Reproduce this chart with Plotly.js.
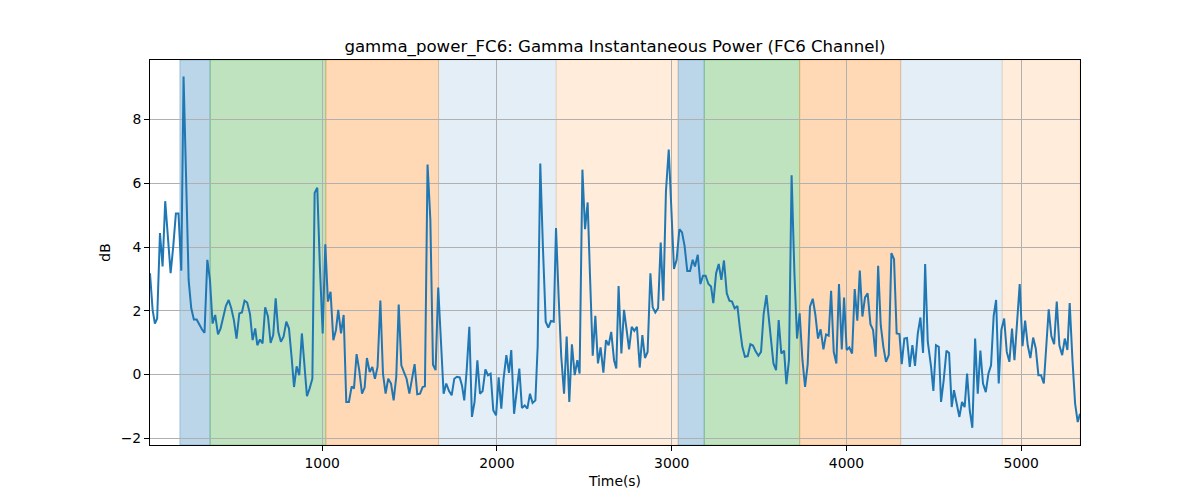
<!DOCTYPE html>
<html>
<head>
<meta charset="utf-8">
<script src="https://cdn.plot.ly/plotly-3.0.1.min.js"></script>
<style>html,body{margin:0;padding:0;background:#fff;}#chart{width:1200px;height:500px;}</style>
</head>
<body>
<div id="chart"></div>
<script>
const timeS = [15,30,43,56,72,87,102,117,133,148,163,178,194,207,220,236,251,266,282,297,312,327,343,358,373,388,404,419,434,449,465,480,495,510,526,541,556,571,587,602,617,629,644,659,674,690,705,720,734,749,764,779,795,810,825,839,854,869,884,
913,928,944,957,972,987,1003,1018,1033,1048,1064,1079,1092,1108,1123,1138,1153,1169,1182,1197,1212,1228,1243,1256,1272,1287,1302,1317,1333,1348,1363,1378,1394,1409,1424,1438,1453,1468,1483,1499,1514,1529,1544,1560,1575,1588,1603,1619,1634,1649,1664,1680,1695,1710,1726,1741,1756,1771,1787,
1800,1813,1827,1842,1857,1872,1888,1903,1918,1934,1949,1964,1979,1995,2010,2025,2038,2054,2069,2082,2098,2113,2128,2143,2159,2174,2189,2204,2220,2233,2248,2263,2279,2294,2309,2325,2338,2353,2368,2384,2399,2414,2429,2445,2460,2473,2489,2504,2519,2532,2548,2563,2578,2593,2609,2624,2639,2654,2670,
2683,2696,2712,2727,2742,2756,2771,2786,2801,2817,2832,2847,2862,2878,2891,2906,2922,2937,2952,2967,2983,2998,3013,3028,3044,3059,3074,3089,3105,3120,3133,3149,3164,3179,3194,3210,3225,3238,3254,3269,3284,3299,3315,3330,3345,3360,3376,3389,3404,3419,3435,3450,3465,3480,3496,3511,3526,3542,
3566,3582,3597,3612,3627,3643,3656,3671,3686,3702,3717,3732,3748,3763,3778,3791,3807,3822,3837,3852,3868,3883,3898,3912,3927,3942,3957,3973,3986,4001,4016,4032,4047,4062,4076,4091,4106,4121,4137,4152,4167,4181,4196,4211,4226,4242,4257,4272,4287,4303,4316,4331,4346,4362,4377,4392,4408,4423,4438,4450,
4465,4484,4497,4512,4528,4541,4556,4572,4587,4602,4615,4631,4646,4661,4676,4690,4705,4720,4736,4751,4766,4781,4797,4812,4827,4842,4856,4871,4886,4902,4917,4932,4947,4961,4976,4991,5007,5022,5037,5052,5068,5083,5098,5113,5129,5142,5157,5172,5188,5203,5218,5234,5249,5264,5277,5293,5308,5323,5336];

const powerDb = [3.18,2.03,1.6,1.76,4.44,3.39,5.44,4.23,3.18,4.02,5.05,5.05,3.26,9.35,6.33,2.97,2.08,1.73,1.73,1.55,1.42,1.31,3.6,2.97,1.6,1.87,1.26,1.45,1.82,2.15,2.34,2.08,1.71,1.13,1.92,1.95,2.32,2.26,1.9,1.08,1.45,0.92,1.1,0.98,2.11,1.82,0.99,1.24,2.39,1.34,1.03,1.19,1.66,1.45,0.56,-0.39,0.26,-0.02,1.29,
-0.68,-0.44,-0.13,5.7,5.86,3.39,1.29,4.09,2.29,2.6,1.08,1.4,2.03,1.29,1.87,-0.86,-0.86,-0.37,-0.44,0.64,0.14,-0.6,-0.41,0.52,0.08,0.24,-0.13,0.24,2.32,0.03,-0.6,-0.13,-0.28,-0.81,-0.07,2.2,0.29,0.08,-0.13,-0.6,-0.13,0.33,-0.62,-0.6,-0.39,-0.37,6.59,4.86,0.31,0.14,2.73,1.13,-0.6,-0.28,-0.52,-0.65,-0.13,-0.07,-0.09,
-0.34,-0.81,0.14,1.5,-1.33,-0.86,0.45,-0.6,-0.52,0.16,-0.02,0.03,-1.12,-1.28,-0.09,-1.07,-0.13,0.61,0.05,0.77,-1.23,-0.49,0.19,-1.05,-0.97,-1.07,-0.6,-0.89,-0.81,0.87,6.62,4.02,1.66,1.47,1.68,1.66,4.6,2.44,0.56,-0.6,1.19,-0.86,0.95,-0.02,0.45,0.03,6.43,4.56,5.4,3.18,0.59,1.84,0.35,0.85,0.06,1.08,0.92,1.34,0.45,
0.19,2.78,0.66,2.03,1.4,0.79,1.5,1.37,1.5,0.22,1.24,0.52,0.71,3.18,2.11,1.95,2.08,4.14,2.32,5.75,7.06,5.38,3.31,3.6,4.56,4.46,4.02,3.25,3.25,3.6,3.39,3.76,2.84,3.1,3.1,2.84,2.76,2.24,3.18,3.47,2.97,3.58,2.55,2.32,2.29,2.08,2.15,1.5,0.87,0.56,0.58,0.95,0.91,0.73,0.59,0.71,1.9,2.49,
1.08,0.35,0.14,1.71,0.66,0.75,-0.3,0.45,6.25,3.18,1.13,1.92,0.45,-0.39,0.33,2.13,2.38,1.87,1.13,1.42,0.79,1.26,1.22,2.63,0.71,0.35,2.84,0.79,2.42,0.77,0.85,0.66,2.68,1.69,3.26,1.82,2.42,2.55,1.58,1.4,0.56,3.41,1.55,0.87,0.4,0.61,3.81,3.62,1.29,1.27,0.33,1.13,1.15,0.24,0.92,0.27,1.29,1.79,0.68,3.47,
1.03,0.24,-0.51,0.92,0.87,-0.86,-0.18,0.75,0.68,-1.02,-0.49,-0.91,-1.33,-0.86,-1.02,0.03,-1.12,-1.67,1.13,-0.6,0.75,-0.28,-0.55,0.03,0.29,1.84,2.34,-0.28,1.4,1.76,0.71,0.4,1.44,0.45,1.5,2.84,0.89,1.69,0.92,0.52,1.16,0.82,-0.02,-0.02,-0.28,0.98,2.05,1.21,0.95,2.29,0.92,0.61,1.13,0.77,2.24,0.45,-0.91,-1.49,-1.23];

const bandStart = [186, 359, 1021, 1666, 2339, 3037, 3186, 3732, 4310, 4891];
const bandEnd   = [359, 1021, 1666, 2339, 3037, 3186, 3732, 4310, 4891, 5336];
const bandColor = ['rgba(31,119,180,0.3)','rgba(44,160,44,0.3)','rgba(255,127,14,0.3)','rgba(31,119,180,0.12)','rgba(255,127,14,0.15)',
                   'rgba(31,119,180,0.3)','rgba(44,160,44,0.3)','rgba(255,127,14,0.3)','rgba(31,119,180,0.12)','rgba(255,127,14,0.15)'];

const xTicks = [1000, 2000, 3000, 4000, 5000];
const yTicks = [-2, 0, 2, 4, 6, 8];

const shapes = bandStart.map((s, i) => ({
  type: 'rect', xref: 'x', yref: 'paper', x0: s, x1: bandEnd[i], y0: 0, y1: 1,
  fillcolor: bandColor[i], line: {color: bandColor[i], width: 1}, layer: 'below'
}));

const trace = {
  x: timeS, y: powerDb, type: 'scatter', mode: 'lines',
  line: {color: '#1f77b4', width: 2}, hoverinfo: 'skip'
};

const font = {family: 'DejaVu Sans, sans-serif', size: 13.9, color: '#000'};

const layout = {
  width: 1200, height: 500,
  margin: {l: 150, r: 120, t: 60, b: 55},
  paper_bgcolor: '#fff', plot_bgcolor: 'rgba(0,0,0,0)',
  showlegend: false,
  font: font,
  title: {text: 'gamma_power_FC6: Gamma Instantaneous Power (FC6 Channel)',
          font: {family: 'DejaVu Sans, sans-serif', size: 16.6, color: '#000'},
          x: 0.5, xref: 'paper', xanchor: 'center', y: 0.908, yref: 'container', yanchor: 'middle'},
  xaxis: {
    range: [15, 5336], tickvals: xTicks, ticktext: xTicks.map(String),
    showgrid: true, gridcolor: '#b0b0b0', gridwidth: 1,
    zeroline: false, showline: true, linecolor: '#000', linewidth: 1, mirror: true,
    ticks: 'outside', ticklen: 5, tickwidth: 1, tickcolor: '#000',
    tickfont: font,
    title: {text: 'Time(s)', font: font, standoff: 6}
  },
  yaxis: {
    range: [-2.21, 9.87], tickvals: yTicks, ticktext: yTicks.map(v => v < 0 ? '\u2212' + Math.abs(v) : String(v)),
    showgrid: true, gridcolor: '#b0b0b0', gridwidth: 1,
    zeroline: false, showline: true, linecolor: '#000', linewidth: 1, mirror: true,
    ticks: 'outside', ticklen: 5, tickwidth: 1, tickcolor: '#000',
    tickfont: font,
    title: {text: 'dB', font: font, standoff: 6}
  },
  shapes: shapes
};

Plotly.newPlot('chart', [trace], layout, {staticPlot: true, displayModeBar: false});
</script>
</body>
</html>
